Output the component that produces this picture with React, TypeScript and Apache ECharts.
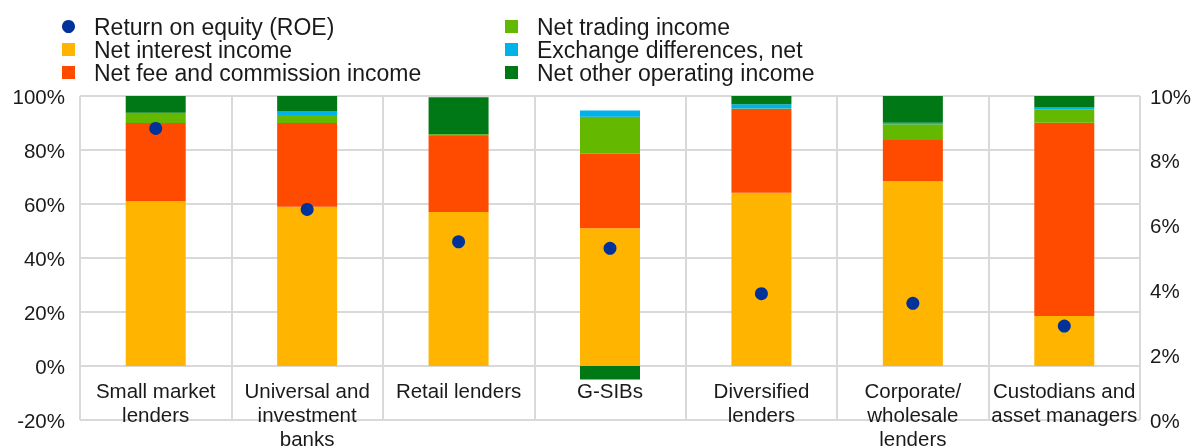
import React, { useEffect, useRef } from "react";
import * as echarts from "echarts";

const categories = [
  "Small market\nlenders",
  "Universal and\ninvestment\nbanks",
  "Retail lenders",
  "G-SIBs",
  "Diversified\nlenders",
  "Corporate/\nwholesale\nlenders",
  "Custodians and\nasset managers",
];
const netInterest = [61, 59, 57, 51, 64.2, 68.5, 18.5];
const netFee = [29, 31, 28.2, 27.6, 31, 15.2, 71.6];
const netTrading = [3.8, 3, 0.6, 13.7, 0.2, 5.8, 5];
const exchangeDiff = [0, 1.4, 0, 2.3, 1.5, 0.6, 0.6];
const netOther = [6.2, 5.6, 13.7, -5, 3.1, 9.9, 4.3];
const roe = [9.0, 6.5, 5.5, 5.3, 3.9, 3.6, 2.9];

const leftTicks = { min: -20, max: 100, interval: 20 };
const rightTicks = { min: 0, max: 10, interval: 2 };

const FONT = "'Liberation Sans', Arial, sans-serif";
const GRID = "#d9d9d9";
const TXT = "#1a1a1a";

export default function App() {
  const ref = useRef<HTMLDivElement>(null);
  useEffect(() => {
    if (!ref.current) return;
    const chart = echarts.init(ref.current, null, { renderer: "svg" });
    const barSeries = (name: string, data: number[], color: string) => ({
      name,
      type: "bar",
      stack: "total",
      data,
      barWidth: 60,
      itemStyle: { color },
      yAxisIndex: 0,
    });
    const legendText = {
      fontFamily: FONT,
      fontSize: 23,
      color: TXT,
      lineHeight: 21,
      padding: [0, 0, 0, 14],
    };
    chart.setOption({
      animation: false,
      textStyle: { fontFamily: FONT },
      grid: { left: 80, right: 61, top: 96, bottom: 28, outerBoundsMode: "none", containLabel: false },
      legend: [
        {
          orient: "vertical",
          left: 62,
          top: 15,
          padding: 0,
          itemGap: 0,
          itemWidth: 13,
          itemHeight: 13,
          textStyle: legendText,
          data: [
            { name: "Return on equity (ROE)", icon: "circle" },
            { name: "Net interest income", icon: "rect" },
            { name: "Net fee and commission income", icon: "rect" },
          ],
        },
        {
          orient: "vertical",
          left: 505,
          top: 15,
          padding: 0,
          itemGap: 0,
          itemWidth: 13,
          itemHeight: 13,
          textStyle: legendText,
          data: [
            { name: "Net trading income", icon: "rect" },
            { name: "Exchange differences, net", icon: "rect" },
            { name: "Net other operating income", icon: "rect" },
          ],
        },
      ],
      xAxis: {
        type: "category",
        data: categories,
        position: "bottom",
        offset: -54,
        axisLine: { onZero: false, lineStyle: { color: GRID, width: 2 } },
        axisTick: { show: false },
        axisLabel: {
          fontSize: 20.5,
          lineHeight: 24,
          color: TXT,
          margin: 12,
          interval: 0,
        },
        splitLine: { show: true, lineStyle: { color: GRID, width: 2 } },
      },
      yAxis: [
        {
          type: "value",
          ...leftTicks,
          axisLabel: { formatter: "{value}%", fontSize: 20.5, color: TXT, margin: 15 },
          axisLine: { show: false },
          axisTick: { show: false },
          splitLine: { show: true, lineStyle: { color: GRID, width: 2 } },
        },
        {
          type: "value",
          ...rightTicks,
          position: "right",
          axisLabel: { formatter: "{value}%", fontSize: 20.5, color: TXT, margin: 10 },
          axisLine: { show: false },
          axisTick: { show: false },
          splitLine: { show: false },
        },
      ],
      series: [
        barSeries("Net interest income", netInterest, "#FFB400"),
        barSeries("Net fee and commission income", netFee, "#FF4B00"),
        barSeries("Net trading income", netTrading, "#65B800"),
        barSeries("Exchange differences, net", exchangeDiff, "#00B1EA"),
        barSeries("Net other operating income", netOther, "#007816"),
        {
          name: "Return on equity (ROE)",
          type: "scatter",
          yAxisIndex: 1,
          data: roe,
          symbolSize: 13,
          itemStyle: { color: "#003299", opacity: 1 },
          z: 5,
        },
      ],
    });
    return () => chart.dispose();
  }, []);
  return (
    <div
      ref={ref}
      style={{ position: "fixed", left: 0, top: 0, width: 1201, height: 448 }}
    />
  );
}
